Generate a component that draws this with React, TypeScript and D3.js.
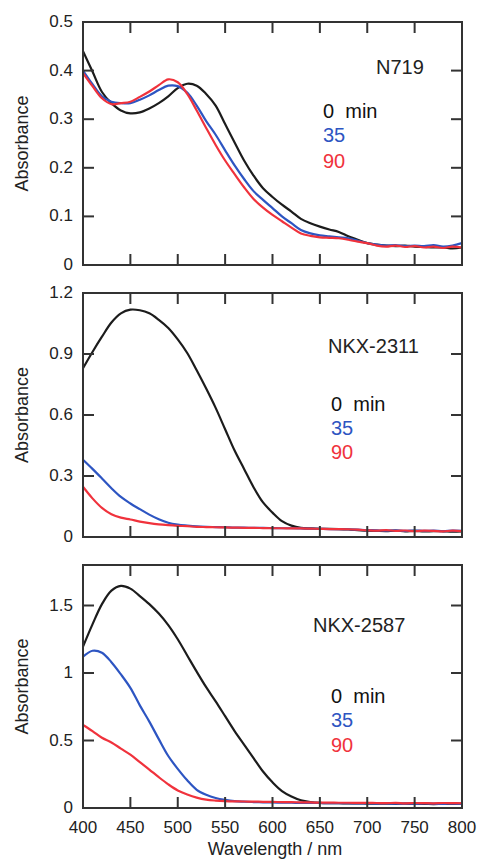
import React from "react";
import * as d3 from "d3";

const WAVELENGTHS = [400,410,420,430,440,450,460,470,480,490,500,510,520,530,540,550,560,570,580,590,600,610,620,630,640,650,660,670,680,690,700,710,720,730,740,750,760,770,780,790,800];
const X_TICKS = [400,450,500,550,600,650,700,750,800];
const SERIES_NAMES = ["0  min", "35", "90"];

const N719_0 = [0.440,0.398,0.356,0.333,0.318,0.312,0.314,0.322,0.333,0.347,0.364,0.373,0.369,0.352,0.328,0.290,0.252,0.215,0.184,0.158,0.140,0.124,0.110,0.095,0.086,0.079,0.073,0.068,0.059,0.052,0.045,0.042,0.040,0.039,0.040,0.038,0.037,0.036,0.036,0.034,0.036];
const N719_35 = [0.400,0.372,0.347,0.336,0.333,0.333,0.340,0.349,0.360,0.369,0.368,0.355,0.328,0.296,0.268,0.236,0.205,0.177,0.152,0.134,0.117,0.100,0.086,0.072,0.065,0.061,0.059,0.057,0.055,0.050,0.045,0.042,0.040,0.041,0.039,0.040,0.039,0.041,0.038,0.040,0.045];
const N719_90 = [0.395,0.368,0.343,0.331,0.333,0.336,0.346,0.357,0.370,0.382,0.376,0.352,0.318,0.282,0.247,0.215,0.187,0.160,0.136,0.118,0.103,0.090,0.077,0.065,0.060,0.057,0.056,0.055,0.052,0.048,0.045,0.040,0.038,0.040,0.037,0.039,0.036,0.038,0.035,0.038,0.036];

const NKX2311_0 = [0.83,0.91,0.985,1.055,1.10,1.118,1.115,1.10,1.068,1.028,0.972,0.905,0.82,0.73,0.635,0.53,0.425,0.335,0.245,0.17,0.12,0.078,0.056,0.045,0.042,0.040,0.040,0.039,0.037,0.034,0.031,0.030,0.029,0.031,0.028,0.030,0.027,0.029,0.028,0.026,0.028];
const NKX2311_35 = [0.38,0.335,0.288,0.24,0.197,0.165,0.137,0.11,0.087,0.070,0.061,0.056,0.052,0.050,0.049,0.048,0.046,0.046,0.045,0.045,0.044,0.043,0.043,0.042,0.041,0.040,0.039,0.039,0.038,0.036,0.034,0.033,0.031,0.033,0.030,0.032,0.030,0.031,0.029,0.031,0.030];
const NKX2311_90 = [0.247,0.19,0.143,0.112,0.095,0.086,0.076,0.068,0.062,0.058,0.055,0.053,0.050,0.049,0.048,0.047,0.046,0.045,0.045,0.044,0.043,0.043,0.042,0.042,0.041,0.040,0.039,0.039,0.038,0.036,0.033,0.031,0.034,0.030,0.032,0.029,0.031,0.030,0.028,0.031,0.029];

const NKX2587_0 = [1.195,1.36,1.51,1.61,1.645,1.625,1.57,1.51,1.44,1.355,1.25,1.13,1.01,0.895,0.79,0.68,0.57,0.47,0.37,0.27,0.19,0.125,0.085,0.057,0.044,0.038,0.036,0.035,0.034,0.034,0.033,0.032,0.033,0.031,0.032,0.030,0.031,0.029,0.031,0.030,0.030];
const NKX2587_35 = [1.12,1.165,1.15,1.08,0.99,0.89,0.76,0.64,0.51,0.385,0.29,0.205,0.135,0.098,0.074,0.060,0.051,0.047,0.044,0.042,0.041,0.040,0.039,0.038,0.038,0.037,0.036,0.036,0.035,0.034,0.034,0.033,0.034,0.032,0.033,0.031,0.034,0.032,0.030,0.033,0.031];
const NKX2587_90 = [0.615,0.57,0.52,0.485,0.44,0.395,0.34,0.285,0.228,0.175,0.13,0.10,0.077,0.062,0.055,0.051,0.049,0.048,0.047,0.046,0.045,0.044,0.043,0.042,0.041,0.040,0.040,0.039,0.039,0.038,0.038,0.037,0.036,0.038,0.035,0.037,0.036,0.035,0.037,0.036,0.035];

const COLORS = ["#1c1c1c", "#2d55c2", "#f0323c"];
const FONT = "'Liberation Sans', Arial, Helvetica, sans-serif";
const TEXT = "#222";

const PANELS = [
  { name: "N719", series: [N719_0, N719_35, N719_90], yMax: 0.5, yTicks: [0, 0.1, 0.2, 0.3, 0.4, 0.5], fmt: (v: number) => (v === 0 ? "0" : v.toFixed(1)),
    top: 22, bottom: 265, nameX: 376, nameY: 74, legX: 323, legY: [118, 142, 168] },
  { name: "NKX-2311", series: [NKX2311_0, NKX2311_35, NKX2311_90], yMax: 1.2, yTicks: [0, 0.3, 0.6, 0.9, 1.2], fmt: (v: number) => (v === 0 ? "0" : v.toFixed(1)),
    top: 293, bottom: 537, nameX: 328, nameY: 353, legX: 331, legY: [411, 435, 459] },
  { name: "NKX-2587", series: [NKX2587_0, NKX2587_35, NKX2587_90], yMax: 1.8, yTicks: [0, 0.5, 1, 1.5], fmt: (v: number) => (v === 0 ? "0" : String(v)),
    top: 565, bottom: 808, nameX: 313, nameY: 632, legX: 331, legY: [703, 727, 752] },
];

const LEFT = 83;
const RIGHT = 462;
const TICK = 11;

function Panel({ p, last }: { p: typeof PANELS[number]; last: boolean }) {
  const x = d3.scaleLinear().domain([400, 800]).range([LEFT, RIGHT]);
  const y = d3.scaleLinear().domain([0, p.yMax]).range([p.bottom, p.top]);
  const line = d3
    .line<number>()
    .x((_, i) => x(WAVELENGTHS[i]))
    .y((d) => y(d))
    .curve(d3.curveCatmullRom.alpha(0.5));
  const midY = (p.top + p.bottom) / 2;
  return (
    <g>
      {p.series.map((s, i) => (
        <path key={i} d={line(s) || ""} fill="none" stroke={COLORS[i]} strokeWidth={2.2} strokeLinejoin="round" />
      ))}
      <rect x={LEFT} y={p.top} width={RIGHT - LEFT} height={p.bottom - p.top} fill="none" stroke="#333" strokeWidth={2} />
      {X_TICKS.slice(1, -1).map((t) => (
        <g key={t}>
          <line x1={x(t)} x2={x(t)} y1={p.bottom} y2={p.bottom - TICK} stroke="#333" strokeWidth={2} />
          <line x1={x(t)} x2={x(t)} y1={p.top} y2={p.top + TICK} stroke="#333" strokeWidth={2} />
        </g>
      ))}
      {p.yTicks.map((t) => (
        <g key={t}>
          {t > 0 && t < p.yMax ? (
            <>
              <line x1={LEFT} x2={LEFT + TICK} y1={y(t)} y2={y(t)} stroke="#333" strokeWidth={2} />
              <line x1={RIGHT} x2={RIGHT - TICK} y1={y(t)} y2={y(t)} stroke="#333" strokeWidth={2} />
            </>
          ) : null}
          <text x={73} y={y(t) + 5} textAnchor="end" fontSize={17} fontFamily={FONT} fill={TEXT}>
            {p.fmt(t)}
          </text>
        </g>
      ))}
      <text transform={`translate(28, ${midY}) rotate(-90)`} textAnchor="middle" fontSize={18} fontFamily={FONT} fill={TEXT}>
        Absorbance
      </text>
      <text x={p.nameX} y={p.nameY} fontSize={20} fontFamily={FONT} fill={TEXT}>
        {p.name}
      </text>
      {SERIES_NAMES.map((n, i) => (
        <text key={n} x={p.legX} y={p.legY[i]} fontSize={20} fontFamily={FONT} fill={i === 0 ? "#111" : COLORS[i]} style={{ whiteSpace: "pre" }}>
          {n}
        </text>
      ))}
      {last &&
        X_TICKS.map((t) => (
          <text key={t} x={x(t)} y={833} textAnchor="middle" fontSize={17} fontFamily={FONT} fill={TEXT}>
            {t}
          </text>
        ))}
    </g>
  );
}

export default function App() {
  return (
    <svg width={483} height={860} style={{ position: "absolute", left: 0, top: 0, background: "#fff" }}>
      <rect x={0} y={0} width={483} height={860} fill="#fff" />
      {PANELS.map((p, i) => (
        <Panel key={p.name} p={p} last={i === PANELS.length - 1} />
      ))}
      <text x={275} y={855} textAnchor="middle" fontSize={18} fontFamily={FONT} fill={TEXT}>
        Wavelength / nm
      </text>
    </svg>
  );
}
